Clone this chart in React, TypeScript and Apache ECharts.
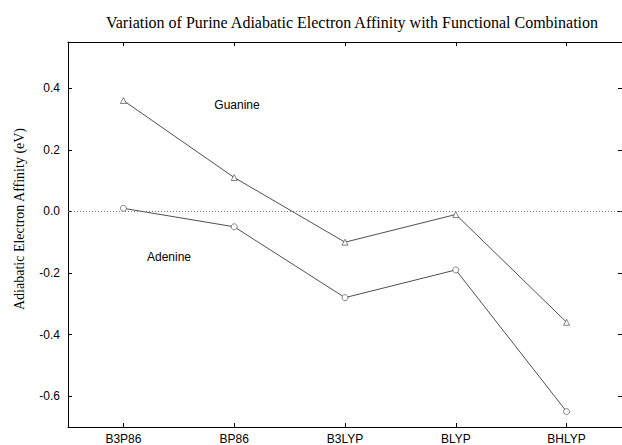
import React, { useEffect, useRef } from "react";
import * as echarts from "echarts";

const categories = ["B3P86", "BP86", "B3LYP", "BLYP", "BHLYP"];
const guanine = [0.36, 0.11, -0.1, -0.01, -0.36];
const adenine = [0.01, -0.05, -0.28, -0.19, -0.65];
const yMin = -0.7;
const yMax = 0.55;

const SANS = "'Liberation Sans', Arial, Helvetica, sans-serif";
const SERIF = "'Liberation Serif', 'Times New Roman', serif";

export default function App() {
  const ref = useRef<HTMLDivElement>(null);
  useEffect(() => {
    if (!ref.current) return;
    const chart = echarts.init(ref.current, undefined, { renderer: "svg" });
    const axisLine = { show: true, onZero: false, lineStyle: { color: "#000", width: 1 } };
    const yAxisBase = {
      type: "value",
      min: yMin,
      max: yMax,
      splitNumber: 6,
      splitLine: { show: false },
      axisLine,
      axisTick: { show: true, inside: true, length: 4, lineStyle: { color: "#000" } },
    };
    const markerStyle = { color: "#fff", borderColor: "#333", borderWidth: 0.6 };
    chart.setOption({
      animation: false,
      backgroundColor: "#fff",
      title: {
        text: "Variation of Purine Adiabatic Electron Affinity with Functional Combination",
        left: 347,
        top: 9,
        textAlign: "center",
        textStyle: { fontFamily: SERIF, fontSize: 16, fontWeight: "normal", color: "#000" },
      },
      grid: { left: 68, right: -1, top: 42, bottom: 18, containLabel: false },
      xAxis: [
        {
          type: "category",
          data: categories,
          boundaryGap: true,
          position: "bottom",
          axisLine,
          axisTick: { show: true, inside: true, alignWithLabel: true, length: 4, lineStyle: { color: "#000" } },
          axisLabel: { color: "#000", fontFamily: SANS, fontSize: 12, margin: 6 },
          splitLine: { show: false },
        },
        {
          type: "category",
          data: categories,
          boundaryGap: true,
          position: "top",
          axisLine,
          axisTick: { show: true, inside: true, alignWithLabel: true, length: 4, lineStyle: { color: "#000" } },
          axisLabel: { show: false },
          splitLine: { show: false },
        },
      ],
      yAxis: [
        {
          ...yAxisBase,
          position: "left",
          axisLabel: {
            color: "#000",
            fontFamily: SANS,
            fontSize: 12,
            margin: 8,
            showMinLabel: false,
            showMaxLabel: false,
            formatter: (v: number) => v.toFixed(1),
          },
        },
        {
          ...yAxisBase,
          position: "right",
          axisLabel: { show: false },
        },
      ],
      graphic: [
        {
          type: "text",
          x: 19,
          y: 219,
          rotation: Math.PI / 2,
          style: {
            text: "Adiabatic Electron Affinity (eV)",
            font: `14px ${SERIF}`,
            fill: "#000",
            textAlign: "center",
            textVerticalAlign: "middle",
          },
        },
        {
          type: "text",
          x: 237,
          y: 105,
          style: {
            text: "Guanine",
            font: `12px ${SANS}`,
            fill: "#000",
            textAlign: "center",
            textVerticalAlign: "middle",
          },
        },
        {
          type: "text",
          x: 169,
          y: 257,
          style: {
            text: "Adenine",
            font: `12px ${SANS}`,
            fill: "#000",
            textAlign: "center",
            textVerticalAlign: "middle",
          },
        },
      ],
      series: [
        {
          name: "Guanine",
          type: "line",
          data: guanine,
          symbol: "triangle",
          symbolSize: 6,
          lineStyle: { color: "#222", width: 0.8 },
          itemStyle: markerStyle,
          markLine: {
            silent: true,
            symbol: "none",
            label: { show: false },
            lineStyle: { type: [1, 2], color: "#777", width: 1 },
            data: [{ yAxis: 0 }],
          },
        },
        {
          name: "Adenine",
          type: "line",
          data: adenine,
          symbol: "circle",
          symbolSize: 6,
          lineStyle: { color: "#222", width: 0.8 },
          itemStyle: markerStyle,
        },
      ],
    });
    return () => chart.dispose();
  }, []);
  return (
    <div
      ref={ref}
      style={{ position: "fixed", left: 0, top: 0, width: 622, height: 445, background: "#fff" }}
    />
  );
}
